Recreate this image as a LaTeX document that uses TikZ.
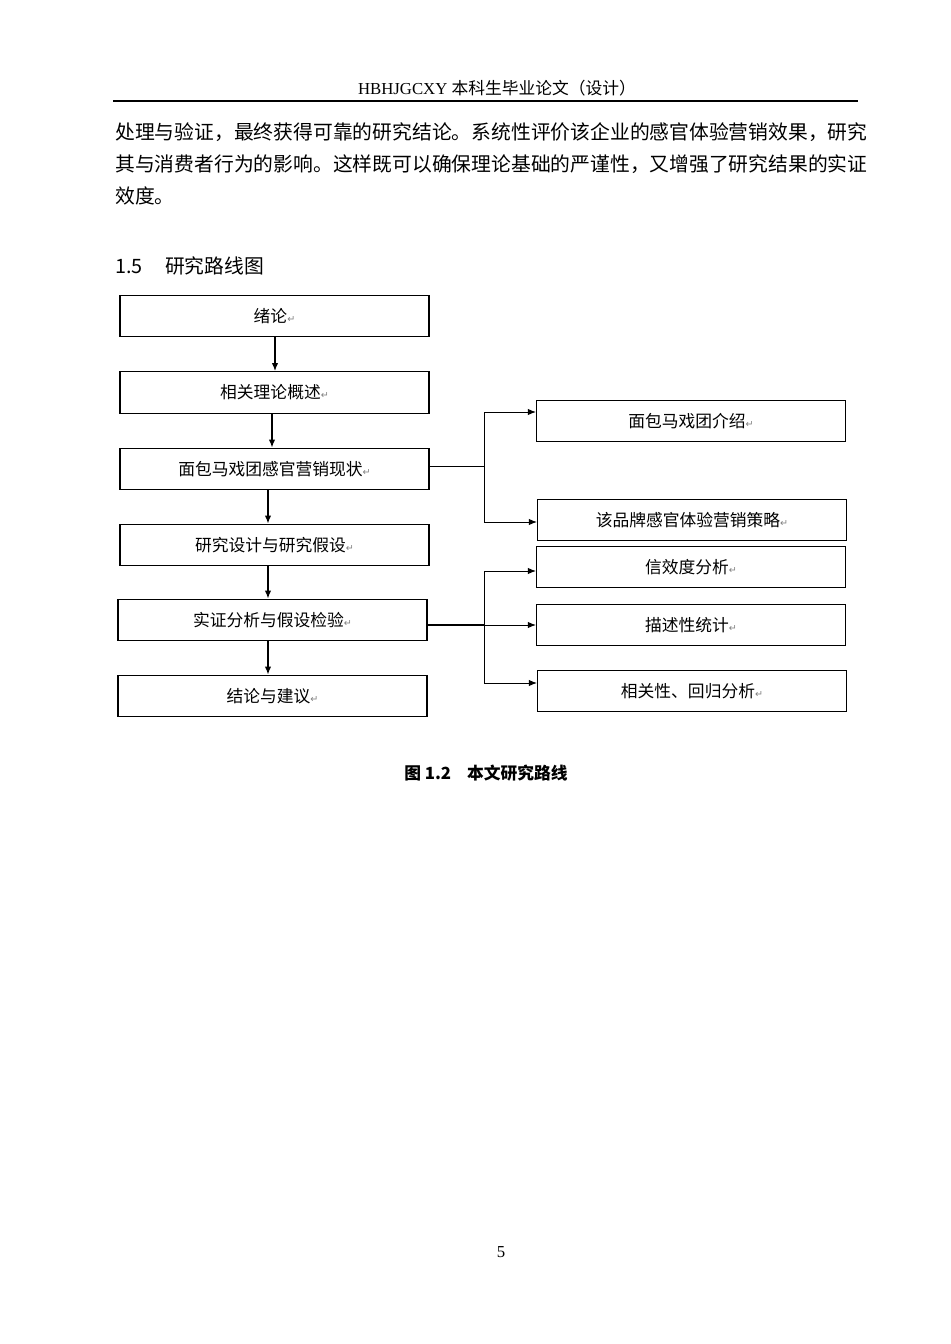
\documentclass[tikz,border=0pt]{standalone}
\usepackage{fontspec}
\setmainfont{Liberation Serif}
\newfontfamily\cjk{Noto Sans CJK SC}
\newfontfamily\dv{DejaVu Sans}
\usetikzlibrary{arrows.meta}
\newcommand{\rt}{{\dv\fontsize{6pt}{6pt}\selectfont\color{gray}↵}}
\begin{document}
\begin{tikzpicture}[x=0.6264pt,y=-0.6264pt,
  bx/.style={draw,line width=0.8pt,minimum width=193.5pt,minimum height=26pt,inner sep=0pt,font=\cjk\fontsize{10.5pt}{12pt}\selectfont},
  ar/.style={-{Latex[length=5pt,width=4pt]},line width=0.9pt},
  ln/.style={line width=0.6pt}]
\useasboundingbox[fill=white] (0,0) rectangle (950,1344);
\node[font=\fontsize{10.5pt}{12pt}\selectfont] (hdr) at (497,88) {HBHJGCXY {\cjk 本科生毕业论文（设计）}};
\draw[line width=1.3pt] (113,101) -- (858,101);
\begin{scope}[every node/.style={anchor=west,inner sep=0pt,font=\cjk\fontsize{12.4pt}{14pt}\selectfont}]
\node (p1) at (115,132) {处理与验证，最终获得可靠的研究结论。系统性评价该企业的感官体验营销效果，研究};
\node (p2) at (115,164) {其与消费者行为的影响。这样既可以确保理论基础的严谨性，又增强了研究结果的实证};
\node (p3) at (115,196) {效度。};
\node (h) at (115,266) {1.5\hspace{14pt}研究路线图};
\end{scope}
\node[bx] (b1) at (274.5,316) {绪论\rt};
\node[bx] (b2) at (274.5,392.5) {相关理论概述\rt};
\node[bx] (b3) at (274.5,469) {面包马戏团感官营销现状\rt};
\node[bx] (b4) at (274.5,545) {研究设计与研究假设\rt};
\node[bx] (b5) at (272.5,620) {实证分析与假设检验\rt};
\node[bx] (b6) at (272.5,696) {结论与建议\rt};
\node[bx] (r1) at (691,421) {面包马戏团介绍\rt};
\node[bx] (r2) at (692,520) {该品牌感官体验营销策略\rt};
\node[bx] (r3) at (691,567) {信效度分析\rt};
\node[bx] (r4) at (691,625) {描述性统计\rt};
\node[bx] (r5) at (692,691) {相关性、回归分析\rt};
\draw[ar] (b1.south -| 275,0) -- (b2.north -| 275,0);
\draw[ar] (b2.south -| 272,0) -- (b3.north -| 272,0);
\draw[ar] (b3.south -| 268,0) -- (b4.north -| 268,0);
\draw[ar] (b4.south -| 268,0) -- (b5.north -| 268,0);
\draw[ar] (b5.south -| 268,0) -- (b6.north -| 268,0);
\coordinate (j1) at (484,466);
\draw[ln] (b3.east |- j1) -- (j1);
\draw[ln] (484,412) -- (484,522);
\draw[ar,line width=0.6pt] (484,412) -- (r1.west |- 0,412);
\draw[ar,line width=0.6pt] (484,522) -- (r2.west |- 0,522);
\coordinate (j2) at (484,625);
\draw[line width=1.2pt] (b5.east |- j2) -- (j2);
\draw[ln] (484,571) -- (484,683);
\draw[ar,line width=0.6pt] (484,571) -- (r3.west |- 0,571);
\draw[ar,line width=0.6pt] (j2) -- (r4.west |- j2);
\draw[ar,line width=0.6pt] (484,683) -- (r5.west |- 0,683);
\node[font=\cjk\bfseries\fontsize{10.5pt}{12pt}\selectfont] (cap) at (486,773) {图 1.2\hspace{10pt}本文研究路线};
\node[font=\fontsize{10.5pt}{12pt}\selectfont] (pg) at (501,1252) {5};
\end{tikzpicture}
\end{document}
